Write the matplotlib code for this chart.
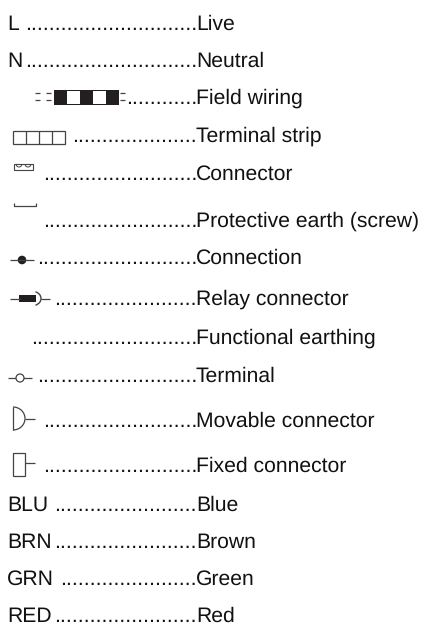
import matplotlib
matplotlib.use("Agg")
import matplotlib.pyplot as plt
from matplotlib.patches import Rectangle, Circle, Arc

prefixes = ["L", "N", "", "", "", "", "", "", "", "", "", "", "BLU", "BRN", "GRN", "RED"]
dots = [29, 29, 12, 21, 26, 26, 27, 24, 28, 27, 26, 26, 24, 24, 23, 24]
names = ["Live", "Neutral", "Field wiring", "Terminal strip", "Connector",
         "Protective earth (screw)", "Connection", "Relay connector",
         "Functional earthing", "Terminal", "Movable connector", "Fixed connector",
         "Blue", "Brown", "Green", "Red"]

baselines = [30, 67, 104, 142, 180, 227, 264, 305, 344, 382, 427, 472, 511, 548, 585, 622]
FS = 15.2
GRAY = "#444444"

plt.rcParams["font.family"] = "Liberation Sans"
plt.rcParams["text.hinting"] = "no_hinting"
fig = plt.figure(figsize=(4.24, 6.23), dpi=100)
ax = fig.add_axes([0, 0, 1, 1])
ax.set_xlim(0, 424)
ax.set_ylim(623, 0)
ax.axis("off")

for p, n, name, y in zip(prefixes, dots, names, baselines):
    if p:
        ax.text(7, y, p, fontsize=FS, va="baseline", color="#111111")
    ax.text(197, y, "." * n, fontsize=15.4, ha="right", va="baseline", color="#111111")
    ax.text(196, y, name, fontsize=FS, va="baseline", color="#111111")


def line(xs, ys, lw=0.9, c=GRAY):
    ax.plot(xs, ys, color=c, lw=lw, solid_capstyle="butt")


# field wiring
for y in (93, 100):
    line([35, 40], [y, y])
    line([46, 51], [y, y])
    line([120, 125], [y, y])
ax.add_patch(Rectangle((54, 90), 65, 15, fc="#231f20", ec="none"))
ax.add_patch(Rectangle((67, 91), 13, 13, fc="white", ec="none"))
ax.add_patch(Rectangle((93, 91), 13, 13, fc="white", ec="none"))

# terminal strip
ax.add_patch(Rectangle((13, 131), 52, 13, fc="none", ec=GRAY, lw=0.9))
for x in (26, 39, 52):
    line([x, x], [131, 144])

# connector
ax.add_patch(Rectangle((14, 164), 19, 6, fc="none", ec=GRAY, lw=0.8))
for x in (19, 28):
    ax.add_patch(Arc((x, 164), 6, 6, theta1=0, theta2=180, ec=GRAY, lw=0.7))

# protective earth
line([14, 14, 36, 36], [203, 205.5, 205.5, 203])

# connection
line([10, 34], [260, 260])
ax.add_patch(Circle((22, 260), 4.3, fc="#231f20", ec="none"))

# relay connector
line([10, 20], [298.5, 298.5])
ax.add_patch(Rectangle((19, 295), 17, 7, fc="#231f20", ec="none"))
ax.add_patch(Arc((33, 298.5), 16, 14, theta1=-70, theta2=70, ec=GRAY, lw=1.0))
line([41, 50], [298.5, 298.5])

# terminal
line([8, 32], [378, 378])
ax.add_patch(Circle((20, 378), 4, fc="white", ec=GRAY, lw=0.9, zorder=3))

# movable connector
line([13, 13], [407, 430])
ax.add_patch(Arc((13, 418.5), 24, 23, theta1=-90, theta2=90, ec=GRAY, lw=0.9))
line([25, 35], [418.5, 418.5])

# fixed connector
ax.add_patch(Rectangle((13, 453), 12, 23, fc="none", ec=GRAY, lw=0.9))
line([25, 35], [463, 463])

fig.savefig("out.png", dpi=100)
